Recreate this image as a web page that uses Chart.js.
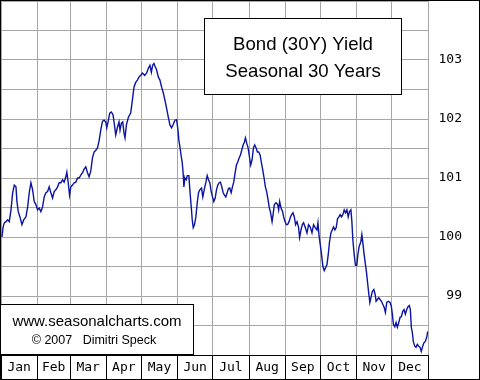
<!DOCTYPE html>
<html><head><meta charset="utf-8">
<script src="https://cdn.jsdelivr.net/npm/chart.js@4"></script>
<style>html,body{margin:0;padding:0;background:#fff}canvas{display:block}</style>
</head><body>
<div style="width:480px;height:380px;position:relative"><canvas id="c" width="480" height="380"></canvas></div>
<script>
const monthNames = ['Jan','Feb','Mar','Apr','May','Jun','Jul','Aug','Sep','Oct','Nov','Dec'];
const monthStartDays = [0,31,59,90,120,151,181,212,243,273,304,334,365];
const yAxisLabels = [99,100,101,102,103];
const titleLines = ['Bond (30Y) Yield','Seasonal 30 Years'];
const creditLines = ['www.seasonalcharts.com','\u00A9 2007   Dimitri Speck'];

const days = [0.85,1.71,2.81,4.26,5.71,7.08,8.53,9.98,11.34,12.79,13.64,14.75,16.20,17.91,19.36,21.32,22.77,24.13,25.58,27.03,28.40,29.85,31.30,32.66,34.11,35.56,36.93,38.38,39.83,41.19,42.64,44.09,45.45,46.90,48.35,49.72,51.17,52.62,53.98,55.43,56.28,57.39,58.59,59.70,61.15,62.51,63.96,65.41,66.77,68.22,69.67,71.04,72.49,73.94,75.30,76.75,78.20,79.57,81.02,82.47,83.83,85.28,86.73,88.09,89.54,90.40,91.51,92.96,94.40,95.77,96.62,98.07,99.52,100.88,101.74,102.93,104.04,105.15,106.00,107.20,108.90,110.86,112.31,113.68,115.13,116.58,117.94,119.39,120.84,122.80,124.51,125.96,127.32,128.52,129.63,130.73,131.93,133.04,134.49,135.85,137.30,138.75,140.12,141.56,143.01,144.38,145.83,147.28,148.64,150.09,151.20,152.05,152.91,154.10,154.95,155.81,156.32,157.17,158.36,159.22,160.58,161.43,162.63,163.48,164.33,165.44,166.55,167.75,168.85,169.96,171.41,172.52,173.97,175.08,176.27,177.38,178.49,179.68,180.79,181.90,183.10,184.20,185.31,186.51,187.62,188.72,189.92,191.03,192.14,193.33,194.44,195.55,196.74,197.85,198.96,200.15,201.26,202.37,203.56,204.67,205.78,206.97,208.08,208.94,210.04,211.24,212.35,213.46,214.65,215.76,216.87,218.06,219.17,220.28,221.47,222.58,223.69,224.88,225.99,227.10,228.29,229.40,230.26,231.71,232.56,233.67,235.12,236.48,237.33,238.19,239.38,240.75,241.60,242.79,243.90,245.01,246.20,247.31,248.42,249.61,250.72,251.83,253.03,254.39,255.24,256.44,257.55,258.65,260.10,261.55,262.92,264.37,265.82,267.18,268.63,270.08,270.93,271.79,272.90,274.00,275.19,276.31,277.41,278.61,279.72,280.82,282.02,283.13,284.24,285.43,286.54,287.65,288.84,289.95,291.06,292.26,293.36,294.47,295.67,296.77,297.88,299.08,299.93,300.78,301.89,303.00,304.19,305.05,306.16,307.60,308.46,309.31,310.42,311.27,312.38,313.23,314.43,315.28,316.39,317.50,318.69,319.80,320.65,321.76,322.95,324.06,325.17,326.37,327.48,328.58,329.78,331.14,332.59,333.70,334.55,335.40,336.60,337.71,338.81,340.01,341.12,342.23,343.42,344.53,345.64,346.83,347.94,349.05,349.90,350.75,351.61,352.46,353.66,354.76,355.87,357.07,358.18,359.28,360.48,361.59,362.70,363.89,364.74];

const yields = [100.00,100.16,100.24,100.26,100.29,100.26,100.46,100.75,100.88,100.85,100.60,100.43,100.34,100.21,100.29,100.34,100.51,100.75,100.92,100.80,100.60,100.55,100.46,100.49,100.43,100.51,100.68,100.75,100.77,100.85,100.75,100.66,100.77,100.80,100.85,100.92,100.92,100.97,100.93,101.02,101.10,100.93,100.71,100.85,100.88,100.92,100.93,101.00,101.00,101.05,101.09,101.15,101.19,101.09,101.02,101.12,101.34,101.44,101.47,101.51,101.63,101.81,101.96,101.98,101.95,101.85,101.95,102.10,102.12,102.07,101.95,101.73,101.86,101.95,101.81,101.93,101.95,101.76,101.68,101.90,102.03,102.10,102.32,102.54,102.62,102.66,102.71,102.74,102.78,102.74,102.78,102.86,102.91,102.79,102.91,102.94,102.88,102.83,102.71,102.66,102.54,102.44,102.32,102.18,102.03,101.90,101.85,101.91,101.98,101.99,101.83,101.64,101.53,101.36,101.26,101.05,100.85,101.00,100.97,101.04,101.04,100.80,100.51,100.29,100.16,100.21,100.34,100.58,100.75,100.80,100.83,100.68,100.83,100.92,101.04,100.97,100.92,100.77,100.68,100.60,100.66,100.80,100.88,100.92,100.93,100.85,100.75,100.71,100.68,100.75,100.82,100.83,100.75,100.85,100.93,101.09,101.22,101.27,101.34,101.39,101.47,101.56,101.61,101.68,101.59,101.51,101.36,101.22,101.31,101.51,101.56,101.51,101.44,101.44,101.39,101.26,101.14,101.00,100.85,100.77,100.63,100.49,100.43,100.26,100.38,100.55,100.58,100.55,100.46,100.60,100.49,100.43,100.34,100.26,100.21,100.21,100.26,100.33,100.38,100.41,100.34,100.21,100.26,100.16,99.99,100.12,100.21,100.24,100.16,100.07,100.21,100.17,100.07,100.21,100.16,100.12,100.24,100.04,99.87,99.70,99.50,99.43,99.48,99.53,99.70,99.92,100.07,100.12,100.17,100.12,100.16,100.31,100.34,100.38,100.34,100.38,100.46,100.41,100.46,100.34,100.43,100.46,100.26,99.95,99.70,99.52,99.52,99.70,99.84,99.92,100.04,99.90,99.70,99.57,99.41,99.25,99.03,98.89,98.99,99.08,99.11,99.03,98.91,98.94,98.97,98.94,98.91,98.86,98.81,98.72,98.89,98.91,98.89,98.82,98.69,98.52,98.48,98.55,98.47,98.55,98.64,98.65,98.74,98.77,98.69,98.77,98.82,98.84,98.77,98.47,98.38,98.23,98.15,98.13,98.18,98.15,98.13,98.06,98.15,98.21,98.23,98.30,98.40];

const monthMids = monthNames.map((m, i) => (monthStartDays[i] + monthStartDays[i + 1]) / 2);
const xTickValues = [];
for (let i = 0; i < 12; i++) { xTickValues.push(monthStartDays[i]); xTickValues.push(monthMids[i]); }
xTickValues.push(monthStartDays[12]);
const isBoundary = v => monthStartDays.includes(v);

const GRID = '#a6a6a6';
const MONO = '"DejaVu Sans Mono", monospace';
const SANS = '"Liberation Sans", Arial, sans-serif';

const overlay = {
  id: 'overlay',
  afterDraw(chart) {
    const ctx = chart.ctx;
    ctx.save();
    ctx.lineWidth = 1;
    ctx.strokeStyle = '#000';
    ctx.fillStyle = '#fff';
    ctx.fillRect(204.5, 18.5, 197, 76);
    ctx.strokeRect(204.5, 18.5, 197, 76);
    ctx.fillStyle = '#000';
    ctx.textAlign = 'center';
    ctx.textBaseline = 'alphabetic';
    ctx.font = '18.6px ' + SANS;
    ctx.fillText(titleLines[0], 303, 49.5);
    ctx.fillText(titleLines[1], 303, 77);
    ctx.fillStyle = '#fff';
    ctx.fillRect(0.5, 304.5, 193, 50);
    ctx.strokeRect(0.5, 304.5, 193, 50);
    ctx.fillStyle = '#000';
    ctx.font = '15px ' + SANS;
    ctx.fillText(creditLines[0], 97, 326);
    ctx.font = '12.5px ' + SANS;
    ctx.fillText(creditLines[1], 94, 343.5);
    ctx.strokeRect(0.5, 0.5, 479, 379);
    ctx.restore();
  }
};

new Chart(document.getElementById('c'), {
  type: 'line',
  data: {
    datasets: [{
      data: days.map((d, i) => ({ x: d, y: yields[i] })),
      borderColor: '#0a14a0',
      borderWidth: 1.4,
      pointRadius: 0,
      tension: 0,
      fill: false
    }]
  },
  options: {
    responsive: false,
    animation: false,
    devicePixelRatio: 1,
    layout: { padding: { left: 1, top: 1, right: 18, bottom: 1 } },
    plugins: { legend: { display: false }, tooltip: { enabled: false } },
    scales: {
      x: {
        type: 'linear', min: 0, max: 365, position: 'bottom',
        afterBuildTicks: s => { s.ticks = xTickValues.map(v => ({ value: v })); },
        afterFit: s => { s.height = 24; s.paddingLeft = 0; s.paddingRight = 0; s.paddingTop = 0; s.paddingBottom = 0; },
        grid: {
          color: c => (c.tick && isBoundary(c.tick.value)) ? GRID : 'rgba(0,0,0,0)',
          tickColor: c => (c.tick && isBoundary(c.tick.value)) ? '#000' : 'rgba(0,0,0,0)',
          tickLength: 24,
          lineWidth: 1
        },
        border: { display: true, color: '#000', width: 1 },
        ticks: {
          autoSkip: false, maxRotation: 0, minRotation: 0,
          padding: -19,
          color: '#000',
          font: { family: MONO, size: 13 },
          callback: v => { const i = monthMids.indexOf(v); return i >= 0 ? monthNames[i] : ''; }
        }
      },
      y: {
        position: 'right', min: 98, max: 104,
        afterFit: s => { s.width = 34; s.paddingTop = 0; s.paddingBottom = 0; s.paddingLeft = 0; s.paddingRight = 0; },
        grid: { color: GRID, drawTicks: false, lineWidth: 1 },
        border: { display: false },
        ticks: {
          stepSize: 0.5, autoSkip: false,
          crossAlign: 'far', padding: 11,
          color: '#000',
          font: { family: MONO, size: 13 },
          callback: v => yAxisLabels.includes(v) ? String(v) : ''
        }
      }
    }
  },
  plugins: [overlay]
});
</script>
</body></html>
